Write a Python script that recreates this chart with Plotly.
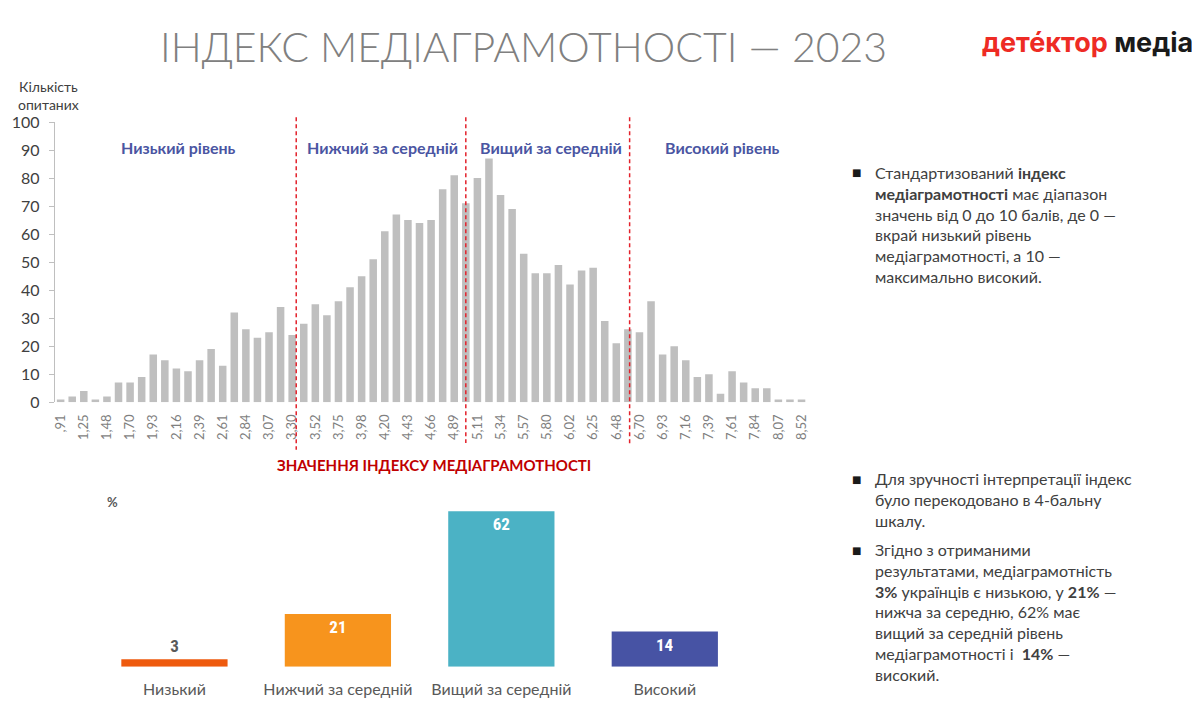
import plotly.graph_objects as go

# ---------------- data ----------------
hist_labels = [",91", "1,14", "1,25", "1,36", "1,48", "1,59", "1,70", "1,82", "1,93", "2,05",
               "2,16", "2,27", "2,39", "2,50", "2,61", "2,73", "2,84", "2,95", "3,07", "3,18",
               "3,30", "3,41", "3,52", "3,64", "3,75", "3,86", "3,98", "4,09", "4,20", "4,32",
               "4,43", "4,55", "4,66", "4,77", "4,89", "5,00", "5,11", "5,23", "5,34", "5,45",
               "5,57", "5,68", "5,80", "5,91", "6,02", "6,14", "6,25", "6,36", "6,48", "6,59",
               "6,70", "6,82", "6,93", "7,05", "7,16", "7,27", "7,39", "7,50", "7,61", "7,73",
               "7,84", "7,95", "8,07", "8,30", "8,52"]
hist_counts = [1, 2, 4, 1, 2, 7, 7, 9, 17, 15,
               12, 11, 15, 19, 13, 32, 26, 23, 25, 34,
               24, 28, 35, 31, 36, 41, 45, 51, 61, 67,
               65, 64, 65, 76, 81, 71, 80, 87, 74, 69,
               53, 46, 46, 49, 42, 47, 48, 29, 21, 26,
               25, 36, 17, 20, 15, 9, 10, 3, 11, 7,
               5, 5, 1, 1, 1]
shown_ticks = hist_labels[::2]

# level boundaries (category index positions on the histogram axis)
level_bounds = [20.35, 35.0, 49.15]
level_names = ["Низький рівень", "Нижчий за середній", "Вищий за середній", "Високий рівень"]

pct_categories = ["Низький", "Нижчий за середній", "Вищий за середній", "Високий"]
pct_values = [3, 21, 62, 14]
pct_colors = ["#EE5A0E", "#F7941D", "#4BB2C5", "#4753A4"]

# page has an 8px body margin: size the figure so the page is exactly 1200x702
OFF = 8
W, H = 1200 - OFF, 702 - OFF
def px(x):
    return (x - OFF) / W
def py(y):
    return 1 - (y - OFF) / H

FONT = "Lato"
GREY_TXT = "#404040"

fig = go.Figure()

fig.add_trace(go.Bar(
    x=hist_labels, y=hist_counts, marker_color="#BFBFBF", marker_line_width=0,
    xaxis="x", yaxis="y", hoverinfo="x+y", showlegend=False,
))

text_pos = ["outside"] + ["inside"] * (len(pct_values) - 1)
text_cols = ["#595959"] + ["#FFFFFF"] * (len(pct_values) - 1)
fig.add_trace(go.Bar(
    x=pct_categories, y=pct_values, marker_color=pct_colors, marker_line_width=0,
    text=[str(v) for v in pct_values], textposition=text_pos,
    insidetextanchor="end", textangle=0, cliponaxis=False,
    textfont=dict(family="Roboto Condensed, Roboto", size=17, color=text_cols, weight="bold"),
    outsidetextfont=dict(family="Roboto Condensed, Roboto", size=17, color="#595959", weight="bold"),
    xaxis="x2", yaxis="y2", showlegend=False,
))

shapes = []
bottoms = [452, 445, 447]
for b, yb in zip(level_bounds, bottoms):
    shapes.append(dict(type="line", xref="x", yref="paper", x0=b, x1=b,
                       y0=py(110), y1=py(yb),
                       line=dict(color="#E3212B", width=1.5, dash="4px,3px")))

annotations = []
# title
annotations.append(dict(text="ІНДЕКС МЕДІАГРАМОТНОСТІ — 2023", x=px(522), y=py(37),
                        xref="paper", yref="paper", showarrow=False, xanchor="center", yanchor="middle",
                        font=dict(family=FONT, size=41, color="#808080", weight=300)))
# logo
annotations.append(dict(text="<span style='color:#EE2B24'>дете́ктор</span> <span style='color:#1A1A1A'>медіа</span>",
                        x=px(1196), y=py(33), xref="paper", yref="paper", showarrow=False,
                        xanchor="right", yanchor="middle",
                        font=dict(family="Inter", size=27, weight="bold")))
# y-axis title
annotations.append(dict(text="Кількість<br>опитаних", x=px(46), y=py(88), xref="paper", yref="paper",
                        showarrow=False, xanchor="center", yanchor="middle", align="center",
                        font=dict(family=FONT, size=14, color=GREY_TXT)))
# level labels
for name, cx in zip(level_names, [176, 381, 550, 722]):
    annotations.append(dict(text="<b>" + name + "</b>", x=px(cx), y=py(141), xref="paper", yref="paper",
                            showarrow=False, xanchor="center", yanchor="middle",
                            font=dict(family=FONT, size=16, color="#4A55A2")))
# x-axis title
annotations.append(dict(text="<b>ЗНАЧЕННЯ ІНДЕКСУ МЕДІАГРАМОТНОСТІ</b>", x=px(432), y=py(468),
                        xref="paper", yref="paper", showarrow=False, xanchor="center", yanchor="middle",
                        font=dict(family=FONT, size=15, color="#C00000")))
# percent sign
annotations.append(dict(text="<b>%</b>", x=px(110), y=py(506), xref="paper", yref="paper",
                        showarrow=False, xanchor="center", yanchor="middle",
                        font=dict(family=FONT, size=13, color="#595959")))

# right-hand text
paras = [
    (155, "Стандартизований <b>індекс</b><br><b>медіаграмотності</b> має діапазон<br>"
          "значень від 0 до 10 балів, де 0 —<br>вкрай низький рівень<br>"
          "медіаграмотності, а 10 —<br>максимально високий."),
    (470, "Для зручності інтерпретації індекс<br>було перекодовано в 4-бальну<br>шкалу."),
    (543, "Згідно з отриманими<br>результатами, медіаграмотність<br>"
          "<b>3%</b> українців є низькою, у <b>21%</b> —<br>нижча за середню, 62% має<br>"
          "вищий за середній рівень<br>медіаграмотності і  <b>14%</b> —<br>високий."),
]
for top, txt in paras:
    annotations.append(dict(text=txt, x=px(873), y=py(top), xref="paper", yref="paper",
                            showarrow=False, xanchor="left", yanchor="top", align="left",
                            font=dict(family=FONT, size=16, color=GREY_TXT)))
    annotations.append(dict(text="■", x=px(856), y=py(top + 12), xref="paper", yref="paper",
                            showarrow=False, xanchor="center", yanchor="middle",
                            font=dict(family="DejaVu Sans", size=10, color="#1A1A1A")))

fig.update_layout(
    width=W, height=H, margin=dict(l=0, r=0, t=0, b=0),
    paper_bgcolor="white", plot_bgcolor="white",
    bargap=0.35,
    xaxis=dict(domain=[px(52), px(807)], type="category", tickmode="array",
               tickvals=shown_ticks, ticktext=shown_ticks, tickangle=-90,
               tickfont=dict(family=FONT, size=13, color="#7F7F7F"),
               showline=False, showgrid=False, zeroline=False, ticks="outside",
               ticklen=6, tickcolor="rgba(0,0,0,0)", fixedrange=True),
    yaxis=dict(domain=[py(403), py(115)], range=[0, 100], dtick=10, showgrid=False,
               zeroline=False, showline=True, linecolor="#BFBFBF", linewidth=1,
               ticks="outside", ticklen=5, tickcolor="#BFBFBF", ticklabelstandoff=6,
               tickfont=dict(family=FONT, size=16, color=GREY_TXT)),
    xaxis2=dict(domain=[px(90), px(746)], type="category", anchor="y2",
                showline=False, showgrid=False, zeroline=False, ticks="outside",
                ticklen=8, tickcolor="rgba(0,0,0,0)",
                tickfont=dict(family=FONT, size=16, color="#595959")),
    yaxis2=dict(domain=[py(675), py(494.4)], range=[0, 70], anchor="x2", visible=False),
    shapes=shapes, annotations=annotations,
)

fig.write_html("out.html")
